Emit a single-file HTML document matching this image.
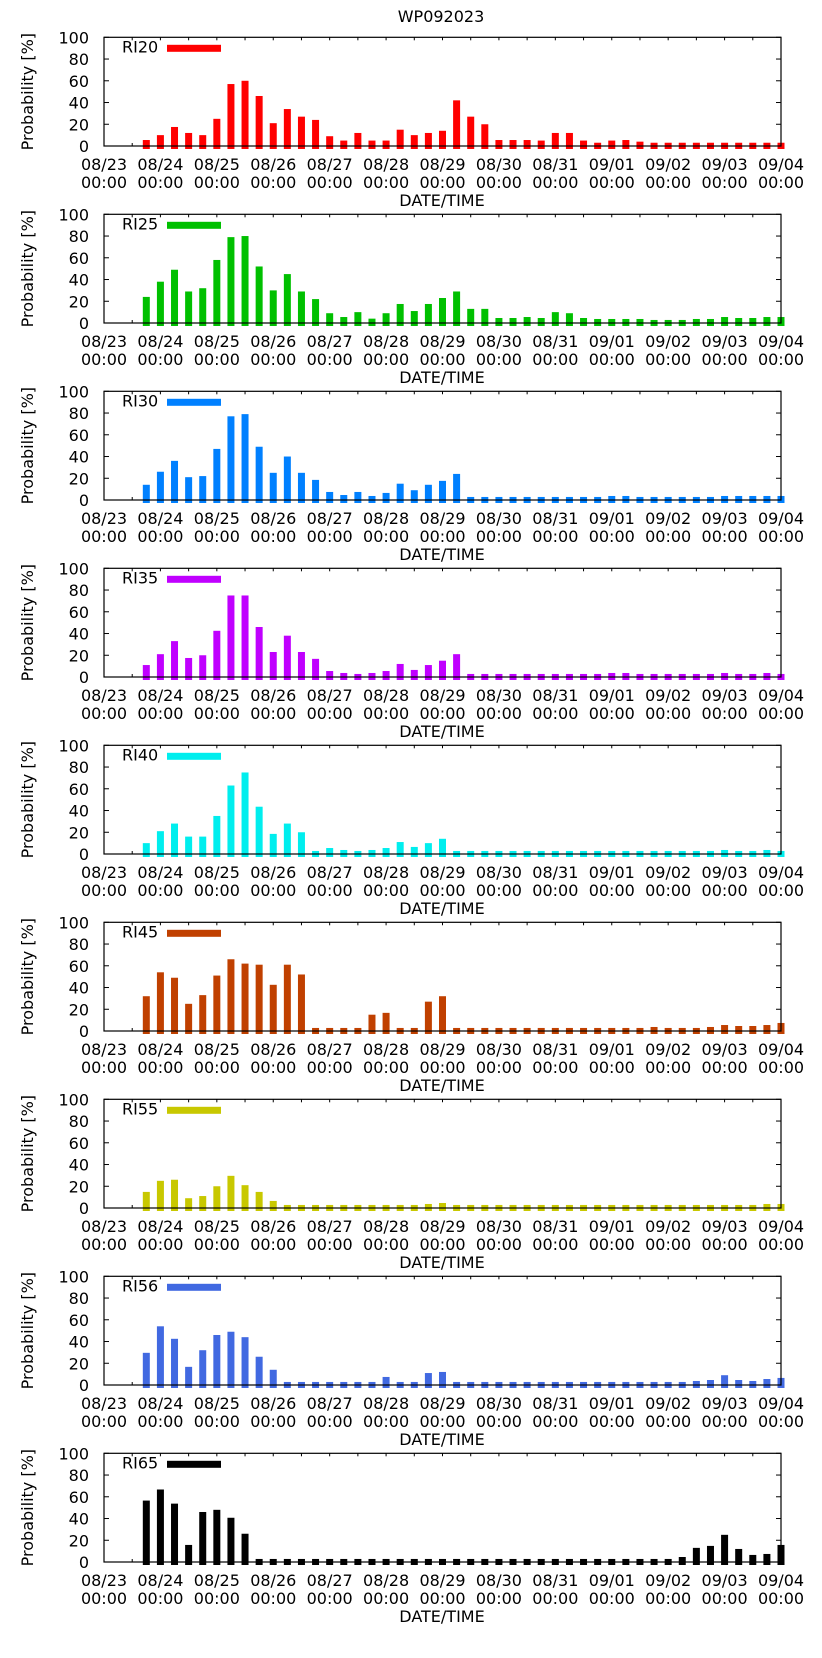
<!DOCTYPE html>
<html><head><meta charset="utf-8"><style>
html,body{margin:0;padding:0;background:#fff;}
svg text{font-family:"DejaVu Sans","Liberation Sans",sans-serif;font-size:16px;fill:#000;}
</style></head><body>
<svg id="chart" width="822" height="1653" viewBox="0 0 822 1653" xmlns="http://www.w3.org/2000/svg">
<rect width="822" height="1653" fill="#fff"/>
<text x="441" y="22" text-anchor="middle">WP092023</text>
</svg>
<script>
const xTickLabels = ["08/23","08/24","08/25","08/26","08/27","08/28","08/29","08/30","08/31","09/01","09/02","09/03","09/04"];
const yTicks = [0,20,40,60,80,100];
const seriesNames = ["RI20","RI25","RI30","RI35","RI40","RI45","RI55","RI56","RI65"];
const seriesColors = ["#ff0000","#00c000","#0080ff","#c000ff","#00eeee","#c04000","#c8c800","#4169e1","#000000"];
const firstSlot = 3; // bars start at 08/23 18:00 (6-hour slots)
const ri20 = [5.5,10,17.5,12,10,25,57,60,46,21,34,27,24,9,5,12,5,5,15,10,12,14,42,27,20,5.5,5.5,5.5,5,12,12,5,3,5,5.5,4,3,3,3,3,3,3,3,3,3,3];
const ri25 = [24,38,49,29,32,58,79,80,52,30,45,29,22,9,5.5,10,4,9,17.5,11,17.5,23,29,13,13,4.6,4.6,5.5,4.6,10,9,4.6,3.7,3.7,3.7,3.7,2.8,2.8,2.8,3.7,3.7,5.5,4.6,4.6,5.5,5.5];
const ri30 = [14,26,36,21,22,47,77,79,49,25,40,25,18.5,7.4,4.6,7.4,3.7,6.5,15,9,14,17.6,24,2.8,2.8,2.8,2.8,2.8,2.8,2.8,2.8,2.8,2.8,3.7,3.7,2.8,2.8,2.8,2.8,2.8,2.8,3.7,3.7,3.7,3.7,3.7];
const ri35 = [11,21,33,17.5,20,42.5,75,75,46,23,38,23,16.7,5.5,3.7,2.8,3.7,5.5,12,6.5,11,15,21,2.8,2.8,2.8,2.8,2.8,2.8,2.8,2.8,2.8,2.8,3.7,3.7,2.8,2.8,2.8,2.8,2.8,2.8,3.7,2.8,2.8,3.7,2.8];
const ri40 = [10,21,28,16,16,35,63,75,43.5,18.5,28,20,2.8,5.5,3.7,2.8,3.7,5.5,11,6.5,10,14,2.8,2.8,2.8,2.8,2.8,2.8,2.8,2.8,2.8,2.8,2.8,2.8,2.8,2.8,2.8,2.8,2.8,2.8,2.8,3.7,2.8,2.8,3.7,2.8];
const ri45 = [32,54,49,25,33,51,66,62,61,42.5,61,52,2.8,2.8,2.8,2.8,15,16.7,2.8,2.8,27,32,2.8,2.8,2.8,2.8,2.8,2.8,2.8,2.8,2.8,2.8,2.8,2.8,2.8,2.8,3.7,2.8,2.8,2.8,3.7,5.5,4.6,4.6,5.5,7.4];
const ri55 = [14.8,25,26,9,11,20,29.6,21,14.8,6.5,2.8,2.8,2.8,2.8,2.8,2.8,2.8,2.8,2.8,2.8,3.7,4.6,2.8,2.8,2.8,2.8,2.8,2.8,2.8,2.8,2.8,2.8,2.8,2.8,2.8,2.8,2.8,2.8,2.8,2.8,2.8,2.8,2.8,2.8,3.7,3.7];
const ri56 = [29.6,54,42.5,16.7,32,46,49,44,26,14,2.8,2.8,2.8,2.8,2.8,2.8,2.8,7.4,2.8,2.8,11,12,2.8,2.8,2.8,2.8,2.8,2.8,2.8,2.8,2.8,2.8,2.8,2.8,2.8,2.8,2.8,2.8,2.8,3.7,4.6,9,4.6,3.7,5.5,6.5];
const ri65 = [56.5,66.7,53.7,15.7,46,48,40.7,26,2.8,2.8,2.8,2.8,2.8,2.8,2.8,2.8,2.8,2.8,2.8,2.8,2.8,2.8,2.8,2.8,2.8,2.8,2.8,2.8,2.8,2.8,2.8,2.8,2.8,2.8,2.8,2.8,2.8,2.8,4.6,13,14.8,25,12,6.5,7.4,15.7];
const allSeries = [ri20,ri25,ri30,ri35,ri40,ri45,ri55,ri56,ri65];

const NS = "http://www.w3.org/2000/svg";
const svg = document.getElementById("chart");
const L = 104, R = 781, PITCH = 177, TOP0 = 37.3, ZERO0 = 146;
const slots = 48;
function xScale(slot){ return L + (R - L) * slot / slots; }
function mk(tag, attrs, parent){
  const e = document.createElementNS(NS, tag);
  for (const k in attrs) e.setAttribute(k, attrs[k]);
  (parent || svg).appendChild(e);
  return e;
}
allSeries.forEach((vals, p) => {
  const top = TOP0 + p * PITCH, zero = ZERO0 + p * PITCH;
  const yScale = v => zero - (zero - top) * v / 100;
  const g = mk("g", {});
  
  
  // ticks first (under bars)
  yTicks.forEach(t => {
    const y = yScale(t);
    mk("line", {x1: L, x2: L + 5, y1: y, y2: y, stroke: "#000"}, g);
    mk("line", {x1: R, x2: R - 5, y1: y, y2: y, stroke: "#000"}, g);
    const tl = mk("text", {x: 89, y: y + 6, "text-anchor": "end"}, g);
    tl.textContent = t;
    
    
  });
  for (let s = 0; s <= slots; s += 2) {
    const x = xScale(s);
    mk("line", {x1: x, x2: x, y1: zero, y2: zero - 3, stroke: "#000"}, g);
    mk("line", {x1: x, x2: x, y1: top, y2: top + 3, stroke: "#000"}, g);
  }
  // bars
  vals.forEach((v, i) => {
    const cx = xScale(firstSlot + i);
    const y = yScale(v);
    const b = mk("rect", {x: cx - 3.5, y: y, width: 7, height: (zero + 3) - y, fill: seriesColors[p]}, g);
    
    
  });
  // frame
  const fr = mk("rect", {x: L, y: top, width: R - L, height: zero - top, fill: "none", stroke: "#000", "stroke-width": 1.2}, g);
  
  
  xTickLabels.forEach((d, i) => {
    const x = xScale(i * 4);
    const t1 = mk("text", {x: x, y: zero + 24, "text-anchor": "middle"}, g);
    t1.textContent = d;
    
    
    const t2 = mk("text", {x: x, y: zero + 42, "text-anchor": "middle"}, g);
    t2.textContent = "00:00";
    
    
  });
  const xt = mk("text", {x: 442, y: zero + 60, "text-anchor": "middle"}, g);
  xt.textContent = "DATE/TIME";
  
  
  const cy = (top + zero) / 2;
  const yt = mk("text", {x: 0, y: 0, "text-anchor": "middle", transform: "translate(33," + cy + ") rotate(-90)"}, g);
  yt.textContent = "Probability [%]";
  
  
  // legend
  const lt = mk("text", {x: 122, y: top + 15}, g);
  lt.textContent = seriesNames[p];
  
  
  const ls = mk("rect", {x: 167, y: top + 7.5, width: 54, height: 7, fill: seriesColors[p]}, g);
  
  
});
</script>
</body></html>
